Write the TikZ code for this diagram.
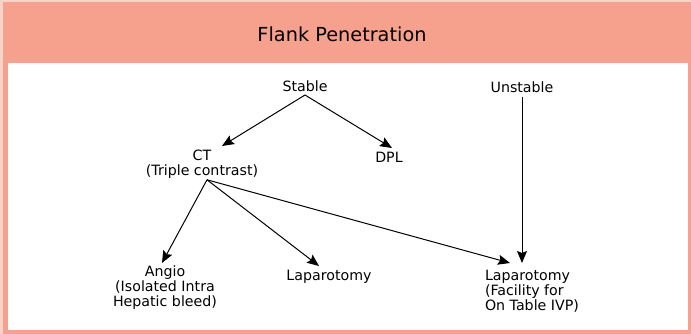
\documentclass[tikz,border=0pt]{standalone}
\usepackage{fontspec}
\setmainfont{DejaVu Sans}
\usetikzlibrary{arrows.meta}
\definecolor{bandcol}{HTML}{F6A18D}
\definecolor{edgecol}{HTML}{F8D3C8}
\begin{document}
\begin{tikzpicture}[x=1pt,y=-1pt,
  lbl/.style={inner sep=0pt,outer sep=0pt,font=\fontsize{14.2}{15}\selectfont},
  flow/.style={line width=1pt,-{Stealth[length=12pt,width=10pt,inset=2pt]}}]
\useasboundingbox (0,0) rectangle (691,334);
% frame: header band and white panel
\fill[edgecol] (0,0) rectangle (691,334);
\fill[bandcol] (2.5,2) rectangle (691,334);
\fill[white] (7.5,63) rectangle (688,330);
\node[inner sep=0pt,anchor=base,font=\fontsize{19.3}{22}\selectfont] (title) at (342,42) {Flank Penetration};

% nodes
\node[lbl,anchor=base] (stable) at (305,92) {Stable};
\node[lbl,anchor=base] (unstable) at (522,93) {Unstable};
\node[lbl,anchor=north,align=center] (ct) at (202,149.6) {CT\\(Triple contrast)};
\node[lbl,anchor=base] (dpl) at (389,163) {DPL};
\node[lbl,anchor=north,align=center] (angio) at (165,266.2) {Angio\\(Isolated Intra\\Hepatic bleed)};
\node[lbl,anchor=base] (lapm) at (329,280) {Laparotomy};
\node[lbl,anchor=north west,align=left] (lapr) at (485,270.6) {Laparotomy\\(Facility for\\On Table IVP)};

% connectors
\draw[flow] ([yshift=-3pt]stable.base) -- ([xshift=20pt,yshift=3.6pt]ct.north);
\draw[flow] ([yshift=-3pt]stable.base) -- ([xshift=3pt,yshift=15pt]dpl.base);
\draw[flow] ([xshift=5pt,yshift=-1.7pt]ct.south) -- ([xshift=-3pt,yshift=3.2pt]angio.north);
\draw[flow] ([xshift=5pt,yshift=-1.7pt]ct.south) -- ([xshift=-10pt,yshift=14pt]lapm.base);
\draw[flow] ([xshift=5pt,yshift=-1.7pt]ct.south) -- ([xshift=25pt,yshift=7.6pt]lapr.north west);
\draw[flow] ([yshift=-4pt]unstable.base) -- ([xshift=37pt,yshift=7.6pt]lapr.north west);
\end{tikzpicture}
\end{document}
